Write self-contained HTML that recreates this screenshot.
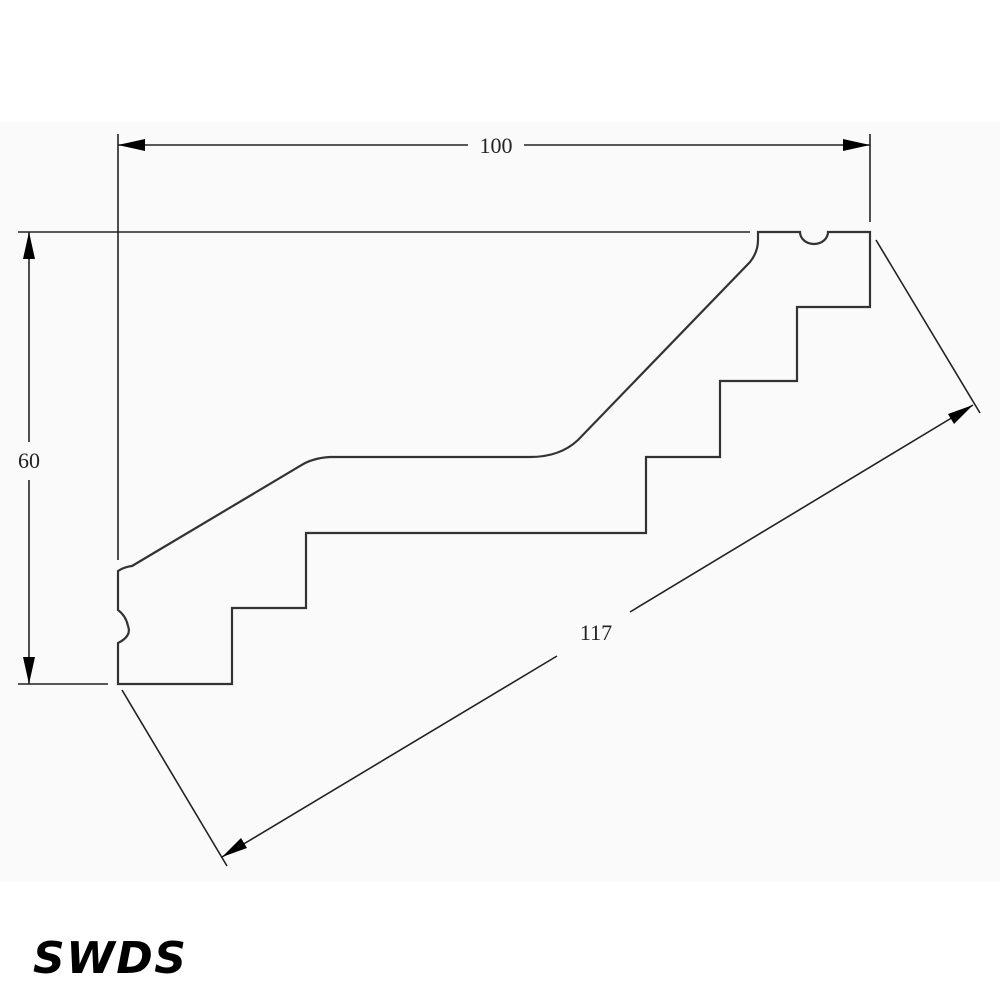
<!DOCTYPE html>
<html><head><style>
html,body{margin:0;padding:0;background:#fff;}
svg{display:block;}
</style></head><body>
<svg width="1000" height="1000" viewBox="0 0 1000 1000" xmlns="http://www.w3.org/2000/svg">
<rect x="0" y="0" width="1000" height="1000" fill="#fff"/>
<rect x="0" y="122" width="1000" height="760" fill="#fafafa"/>
<g fill="none" stroke="#333" stroke-width="2.2" stroke-linejoin="miter">
<path d="M758,232 L800,232 A14,12 0 0 0 828,232 L870,232 L870,307 L797,307 L797,381 L720,381 L720,457 L646,457 L646,533 L306,533 L306,608 L232,608 L232,684 L118,684 L118,643 Q132,636 128,626 Q126,616 118,610 L118,571 Q124,567 132,566 L300,466 Q312,458 330,457 L530,457 Q560,457 578,440 L750,262 Q758,252 758,240 Z"/>
</g>
<g stroke="#222" stroke-width="1.6" fill="none">
<line x1="118" y1="134" x2="118" y2="560"/>
<line x1="870" y1="134" x2="870" y2="222"/>
<line x1="18" y1="232" x2="750" y2="232"/>
<line x1="18" y1="684" x2="108" y2="684"/>
<line x1="118" y1="145" x2="468" y2="145"/>
<line x1="524" y1="145" x2="870" y2="145"/>
<line x1="29" y1="232" x2="29" y2="442"/>
<line x1="29" y1="480" x2="29" y2="684"/>
<line x1="122" y1="690" x2="227" y2="866"/>
<line x1="876" y1="240" x2="980" y2="413"/>
<line x1="222" y1="857" x2="557" y2="656"/>
<line x1="630" y1="612" x2="973" y2="405"/>
</g>
<g fill="#000">
<polygon points="118,145 145,139 145,151"/>
<polygon points="870,145 843,139 843,151"/>
<polygon points="29,232 23,259 35,259"/>
<polygon points="29,684 23,657 35,657"/>
<polygon points="222,857 241,838 247,848"/>
<polygon points="973,405 948,414 954,424"/>
</g>
<g font-family="'Liberation Serif',serif" font-size="22" fill="#222" text-anchor="middle">
<text x="496" y="153">100</text>
<text x="29" y="468">60</text>
<text x="596" y="640">117</text>
</g>
<text x="33" y="973" font-family="'DejaVu Sans',sans-serif" font-weight="bold" font-style="oblique" font-size="44" letter-spacing="1.5" fill="#000">SWDS</text>
</svg>
</body></html>
